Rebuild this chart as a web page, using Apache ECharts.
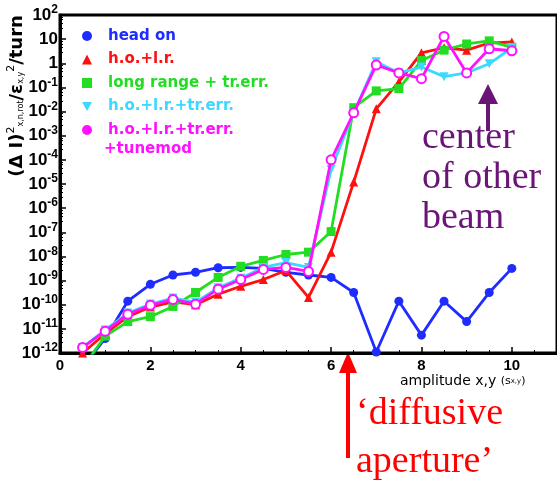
<!DOCTYPE html>
<html><head><meta charset="utf-8">
<script src="https://cdn.jsdelivr.net/npm/echarts@6/dist/echarts.min.js"></script>
<style>html,body{margin:0;padding:0;background:#fff}#c{width:557px;height:488px}</style>
</head><body><div id="c"></div>
<script>
// amplitude x,y in sigma
const amplitude = [0.5,1.0,1.5,2.0,2.5,3.0,3.5,4.0,4.5,5.0,5.5,6.0,6.5,7.0,7.5,8.0,8.5,9.0,9.5,10.0];
const headOn   = [2.5e-13,4e-12,1.4e-10,7e-10,1.7e-9,2.2e-9,3.4e-9,3.5e-9,3.2e-9,2.2e-9,1.7e-9,1.35e-9,3.2e-10,1.1e-12,1.4e-10,5.5e-12,1.4e-10,2e-11,3.2e-10,3.2e-9];
const hoLr     = [1e-12,6.3e-12,3.2e-11,8e-11,1.3e-10,1e-10,2.7e-10,5.8e-10,1.1e-9,2.6e-9,2e-10,1.5e-8,1.2e-5,1.3e-2,0.17,2.7,4.4,3.5,6.9,7.6];
const longRange= [2.5e-13,5e-12,2e-11,3.2e-11,8.5e-11,3.2e-10,1.35e-9,3.9e-9,6.8e-9,1.2e-8,1.5e-8,1.07e-7,1.45e-2,7.2e-2,9e-2,1.3,3.5,6.3,8.5,4.6];
const hoLrTr   = [1.7e-12,9e-12,4.5e-11,1.07e-10,1.9e-10,1.26e-10,5e-10,1.26e-9,3.5e-9,5.6e-9,3.5e-9,4e-5,8.9e-3,1.15,0.4,0.7,0.28,0.4,0.95,4.4];
const tunemod  = [1.7e-12,8e-12,4e-11,9.5e-11,1.66e-10,1.05e-10,4.4e-10,1.1e-9,2.9e-9,3.5e-9,2.4e-9,1e-4,8.9e-3,0.85,0.4,0.23,13,0.4,4,3.3];
const seriesNames = ['head on','h.o.+l.r.','long range + tr.err.','h.o.+l.r.+tr.err.','h.o.+l.r.+tr.err.'];
const xTicks = [0,2,4,6,8,10];

const colors = ['#1f2cff','#ff1010','#22dd22','#3cd8ff','#ff10ff'];
const symbols = ['circle','triangle','rect','triangle','emptyCircle'];
const rotates = [0,0,0,180,0];
const legendIcons = ['circle','triangle','rect','path://M0,0L10,0L5,9Z','circle'];
const values = [headOn,hoLr,longRange,hoLrTr,tunemod];

const chart = echarts.init(document.getElementById('c'));
const series = values.map((vals,k)=>({
  name: k===4 ? seriesNames[k]+' ' : seriesNames[k],
  type:'line',
  data: amplitude.map((a,i)=>[a, vals[i]]),
  symbol: symbols[k],
  symbolRotate: rotates[k],
  symbolSize: 9,
  lineStyle:{color:colors[k], width:2.8},
  itemStyle:{color:colors[k], borderWidth: k===4?1.5:0, borderColor: colors[k]},
  z: 2+k,
  animation:false
}));

function supLabel(v){
  const e = Math.round(Math.log10(v));
  if (e===1) return '{b|10}';
  if (e===0) return '{b|1}';
  return '{b|10}{s|'+e+'}';
}

chart.setOption({
  animation:false,
  backgroundColor:'#fff',
  grid:{left:60, top:15, width:500, height:338, show:true, borderColor:'#000', borderWidth:3, backgroundColor:'#fff'},
  xAxis:{
    type:'value', min:0, max:11, interval:2,
    axisLine:{lineStyle:{color:'#000', width:3}},
    axisTick:{inside:true, length:6, lineStyle:{color:'#000', width:1.5}},
    minorTick:{show:true, splitNumber:4, length:3, lineStyle:{color:'#000', width:1}},
    splitLine:{show:false},
    axisLabel:{showMaxLabel:false, color:'#000', fontFamily:'Liberation Sans', fontWeight:'bold', fontSize:15, margin:5,
      formatter:(v)=> xTicks.indexOf(v)>=0 ? String(v) : ''}
  },
  yAxis:{
    type:'log', logBase:10, min:1e-12, max:100, interval:1, splitNumber:14,
    axisLine:{lineStyle:{color:'#000', width:3}},
    axisTick:{inside:true, length:6, lineStyle:{color:'#000', width:1.5}},
    minorTick:{show:true, splitNumber:5, length:3, lineStyle:{color:'#000', width:1}},
    splitLine:{show:false},
    axisLabel:{margin:2, interval:0, hideOverlap:false, color:'#000', formatter:supLabel,
      rich:{
        b:{fontFamily:'Liberation Sans', fontWeight:'bold', fontSize:17, color:'#000'},
        s:{fontFamily:'Liberation Sans', fontWeight:'bold', fontSize:12, color:'#000', padding:[0,0,10,0]}
      }}
  },
  legend:{
    orient:'vertical', left:77, top:22, itemWidth:10, itemHeight:10, itemGap:5.5,
    selectedMode:false,
    data: seriesNames.map((n,k)=>({name: k===4? n+' ' : n, icon: legendIcons[k],
      itemStyle:{color:colors[k], borderWidth:0},
      textStyle:{color:colors[k]}})),
    textStyle:{fontFamily:'DejaVu Sans', fontWeight:'bold', fontSize:15, lineHeight:18, padding:[0,0,0,11]}
  },
  series: series,
  graphic:[
    {type:'text', left:104, top:142, style:{text:'+tunemod', fill:colors[4], font:'bold 15px "DejaVu Sans"'}},
    {type:'text', x:17, y:96, rotation:Math.PI/2,
      style:{text:'{m|(Δ I)}{sup|2}{sub|x,n,rot}{m|/ε}{sub|x,y}{sup|2}{m|/turn}', align:'center', verticalAlign:'middle',
        rich:{
          m:{fontFamily:'DejaVu Sans', fontSize:18, fill:'#000', fontWeight:'bold'},
          sup:{fontFamily:'DejaVu Sans', fontSize:11, fill:'#000', padding:[0,0,12,0]},
          sub:{fontFamily:'DejaVu Sans', fontSize:8, fill:'#000', padding:[8,0,0,0]}
        }}},
    {type:'text', left:400, top:374, style:{text:'{a|amplitude x,y }{b|(s}{c|x,y}{b|)}',
      rich:{a:{fontFamily:'DejaVu Sans', fontSize:14, fill:'#000'}, b:{fontFamily:'DejaVu Sans', fontSize:11, fill:'#000'}, c:{fontFamily:'DejaVu Sans', fontSize:7, fill:'#000'}}}},
    // purple arrow
    {type:'rect', shape:{x:486, y:100, width:4, height:31}, style:{fill:'#6b1478'}},
    {type:'polygon', shape:{points:[[488,84],[478,104],[498,104]]}, style:{fill:'#6b1478'}},
    {type:'text', left:422, top:118, style:{text:'center\nof other\nbeam', font:'38px "Liberation Serif"', lineHeight:40, fill:'#6b1478'}},
    // red arrow
    {type:'rect', shape:{x:346, y:368, width:4, height:90}, style:{fill:'#ff0000'}},
    {type:'polygon', shape:{points:[[348,352],[339,373],[357,373]]}, style:{fill:'#ff0000'}},
    {type:'text', left:356, top:390, style:{text:'‘diffusive\naperture’', font:'38px "Liberation Serif"', lineHeight:48, fill:'#ff0000'}}
  ]
});
</script></body></html>
